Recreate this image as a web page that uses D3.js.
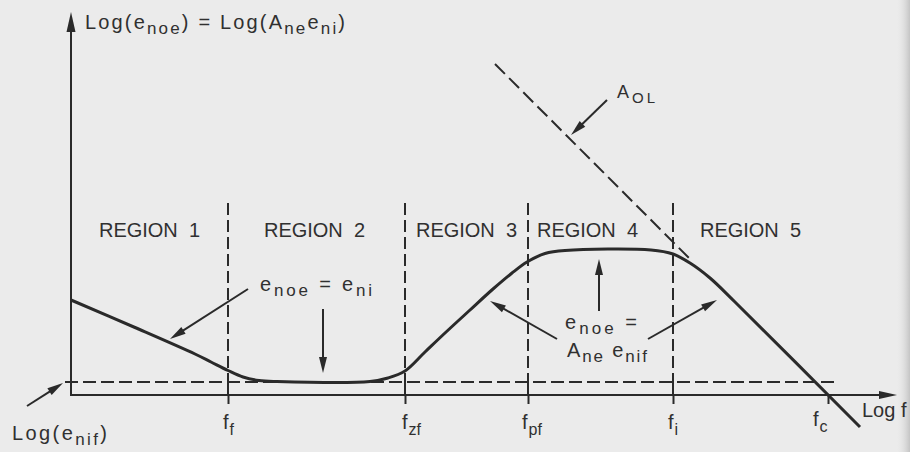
<!DOCTYPE html>
<html>
<head>
<meta charset="utf-8">
<script src="https://cdn.jsdelivr.net/npm/d3@7"></script>
<style>
  html, body { margin: 0; padding: 0; background: #ebebeb; }
  svg { display: block; }
  text { font-family: "Liberation Sans", Arial, sans-serif; fill: #303030; white-space: pre; }
</style>
</head>
<body>
<svg id="chart" width="910" height="452"></svg>
<script>
// Output noise of an amplifier versus log frequency, split into five regions.

// Break frequencies on the log f axis (decades from the origin)
const freqBase = ["f", "f", "f", "f", "f"];
const freqSub  = ["f", "zf", "pf", "i", "c"];
const freqLog  = [1.57, 3.34, 4.57, 6.02, 7.57];

// Region names, laid out between consecutive break frequencies
const regionNames = ["REGION  1", "REGION  2", "REGION  3", "REGION  4", "REGION  5"];

// Output noise curve: log(e_noe) against log f
const curveLogF = [0, 0.64, 1.24, 1.40, 1.57, 1.72, 1.88, 2.06, 2.99, 3.17, 3.34, 3.54, 3.74,
                   3.99, 4.22, 4.41, 4.56, 4.74, 4.94, 5.80, 6.02, 6.19, 6.39, 6.64, 7.89];
const curveLogE = [0.95, 0.675, 0.41, 0.33, 0.245, 0.18, 0.145, 0.135, 0.135, 0.17, 0.24, 0.43, 0.62,
                   0.85, 1.06, 1.22, 1.33, 1.415, 1.445, 1.45, 1.41, 1.32, 1.17, 0.93, -0.32];

// Input noise floor log(e_nif)
const nifLevel = 0.13;
const nifSpan = [-0.06, 7.64];

// Open-loop gain asymptote A_OL (dashed)
const aolLogF = [4.24, 6.21];
const aolLogE = [3.31, 1.34];

// Top of the dashed region boundaries
const boundaryTop = 1.92;

// Annotation arrows: tail and head, in (log f, log e)
const arrowTail = [[1.77, 1.06], [2.52, 0.86], [4.86, 0.56], [5.28, 0.84], [5.77, 0.56], [5.36, 2.95], [-0.44, -0.11]];
const arrowHead = [[0.99, 0.56], [2.52, 0.22], [4.19, 0.94], [5.28, 1.36], [6.46, 0.95], [5.00, 2.60], [-0.08, 0.12]];

const W = 910, H = 452;
const ink = "#2a2a2a";
const svg = d3.select("#chart");

const x = d3.scaleLinear().domain([0, 8.26]).range([71, 897]);
const y = d3.scaleLinear().domain([0, 3.83]).range([395, 12]);

// paper and page-edge shading
const defs = svg.append("defs");
const edge = defs.append("linearGradient").attr("id", "edge").attr("x1", 0).attr("x2", 1).attr("y1", 0).attr("y2", 0);
edge.append("stop").attr("offset", 0).attr("stop-color", "#ebebeb").attr("stop-opacity", 0);
edge.append("stop").attr("offset", 1).attr("stop-color", "#c4c4c4").attr("stop-opacity", 1);
svg.append("rect").attr("width", W).attr("height", H).attr("fill", "#ebebeb");
svg.append("rect").attr("x", 896).attr("width", 14).attr("height", H).attr("fill", "url(#edge)");

function drawArrow(g, x0, y0, x1, y1, len, half, width) {
  const dx = x1 - x0, dy = y1 - y0, L = Math.hypot(dx, dy);
  const ux = dx / L, uy = dy / L;
  const bx = x1 - ux * len, by = y1 - uy * len;
  g.append("line")
    .attr("x1", x0).attr("y1", y0).attr("x2", bx + ux * 2).attr("y2", by + uy * 2)
    .attr("stroke", ink).attr("stroke-width", width);
  g.append("path")
    .attr("d", `M${x1},${y1}L${bx - uy * half},${by + ux * half}L${bx + uy * half},${by - ux * half}Z`)
    .attr("fill", ink);
}

// ---- axes ----
const axes = svg.append("g");
const xAxis = d3.axisBottom(x).tickValues(freqLog).tickSizeInner(9).tickSizeOuter(0).tickFormat(() => "");
const gx = axes.append("g").attr("transform", `translate(0,${y(0)})`).call(xAxis);
gx.select(".domain").attr("stroke", ink).attr("stroke-width", 2).attr("d", `M${x(0)},0H${x(8.26) - 14}`);
gx.selectAll(".tick line").attr("stroke", ink).attr("stroke-width", 2);
drawArrow(axes, x(8.1), y(0), x(8.26), y(0), 18, 4, 2);

axes.append("line").attr("x1", x(0)).attr("x2", x(0)).attr("y1", y(0) + 1).attr("y2", y(3.6))
  .attr("stroke", ink).attr("stroke-width", 2);
drawArrow(axes, x(0), y(3.5), x(0), y(3.83), 20, 4.5, 2);

// tick labels with subscripts
const labelShift = [-5, -3, -6, -5, -15];
const labelDrop = [0, 0, 0, 0, -3];
freqLog.forEach((v, i) => {
  const t = svg.append("text").attr("x", x(v) + labelShift[i]).attr("y", 429 + labelDrop[i]).attr("font-size", 20);
  t.append("tspan").text(freqBase[i]);
  t.append("tspan").attr("dy", 6).attr("dx", 1).attr("font-size", 16).text(freqSub[i]);
});

svg.append("text").attr("x", 862).attr("y", 417).attr("font-size", 20).text("Log f");

// y-axis title
const yt = svg.append("text").attr("x", 85).attr("y", 29).attr("font-size", 20)
  .attr("textLength", 260).attr("lengthAdjust", "spacing");
yt.append("tspan").text("Log(e");
yt.append("tspan").attr("dy", 5).attr("font-size", 17).text("noe");
yt.append("tspan").attr("dy", -5).text(") = Log(A");
yt.append("tspan").attr("dy", 5).attr("font-size", 17).text("ne");
yt.append("tspan").attr("dy", -5).text("e");
yt.append("tspan").attr("dy", 5).attr("font-size", 17).text("ni");
yt.append("tspan").attr("dy", -5).text(")");

// ---- dashed guide lines ----
const guides = svg.append("g").attr("stroke", ink).attr("fill", "none");
guides.append("line")
  .attr("x1", x(nifSpan[0])).attr("x2", x(nifSpan[1])).attr("y1", y(nifLevel)).attr("y2", y(nifLevel))
  .attr("stroke-width", 2).attr("stroke-dasharray", "13,5");

freqLog.slice(0, 4).forEach(v => {
  guides.append("line").attr("x1", x(v)).attr("x2", x(v)).attr("y1", y(boundaryTop)).attr("y2", y(nifLevel))
    .attr("stroke-width", 2).attr("stroke-dasharray", "12,5");
  guides.append("line").attr("x1", x(v)).attr("x2", x(v)).attr("y1", y(nifLevel)).attr("y2", y(0))
    .attr("stroke-width", 2);
});

guides.append("line")
  .attr("x1", x(aolLogF[0])).attr("y1", y(aolLogE[0])).attr("x2", x(aolLogF[1])).attr("y2", y(aolLogE[1]))
  .attr("stroke-width", 2).attr("stroke-dasharray", "14,6");

// ---- region labels ----
const bounds = [0, ...freqLog];
const regionNudge = [0, -2, 0, -13, 0];
regionNames.forEach((r, i) => {
  svg.append("text").attr("x", (x(bounds[i]) + x(bounds[i + 1])) / 2 + regionNudge[i]).attr("y", 237)
    .attr("text-anchor", "middle").attr("font-size", 20).attr("textLength", 101).attr("lengthAdjust", "spacing")
    .text(r);
});

// ---- noise curve ----
const pts = curveLogF.map((f, i) => [f, curveLogE[i]]);
svg.append("path").datum(pts)
  .attr("d", d3.line().x(d => x(d[0])).y(d => y(d[1])).curve(d3.curveCatmullRom.alpha(0.5)))
  .attr("fill", "none").attr("stroke", ink).attr("stroke-width", 3).attr("stroke-linejoin", "round");

// ---- annotations ----
const notes = svg.append("g");
arrowTail.forEach((p, i) => {
  drawArrow(notes, x(p[0]), y(p[1]), x(arrowHead[i][0]), y(arrowHead[i][1]), 16, 4, 2);
});

function subText(px, py, parts, size, len) {
  const t = svg.append("text").attr("x", px).attr("y", py).attr("font-size", size);
  if (len) t.attr("textLength", len).attr("lengthAdjust", "spacing");
  let down = 0;
  parts.forEach(([s, sub]) => {
    const dy = sub ? 5 - down : -down;
    down = sub ? 5 : 0;
    t.append("tspan").attr("dy", dy).attr("font-size", sub ? size - 3 : size).text(s);
  });
  return t;
}

subText(x(1.89), y(1.04), [["e", 0], ["noe", 1], [" = e", 0], ["ni", 1]], 20, 112);
subText(x(4.94), y(0.66), [["e", 0], ["noe", 1], [" =", 0]], 20, 72);
subText(x(4.96), y(0.38), [["A", 0], ["ne", 1], [" e", 0], ["nif", 1]], 20, 80);
subText(x(5.46), y(2.97), [["A", 0], ["OL", 1]], 18, 38);
subText(x(-0.59), y(-0.45), [["Log(e", 0], ["nif", 1], [")", 0]], 20, 95);
</script>
</body>
</html>
